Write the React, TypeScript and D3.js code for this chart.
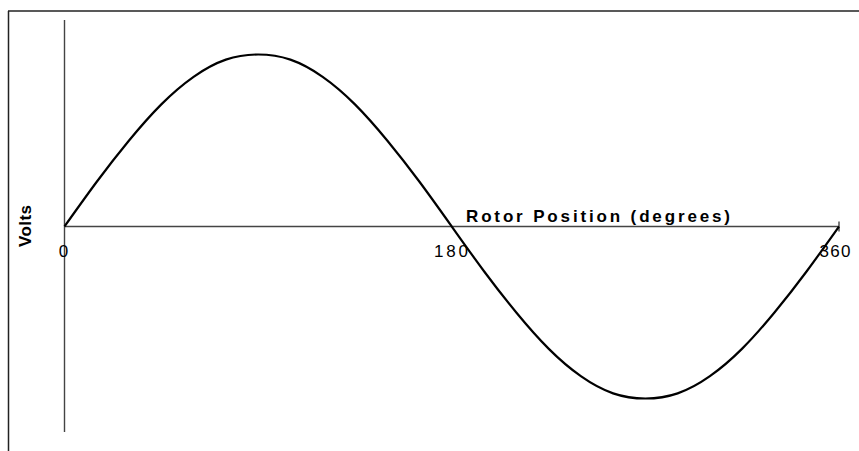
import React from "react";
import * as d3 from "d3";

const angles = [0, 15, 30, 45, 60, 75, 90, 105, 120, 135, 150, 165, 180, 195, 210, 225, 240, 255, 270, 285, 300, 315, 330, 345, 360];
const volts = [0, 0.26, 0.5, 0.71, 0.87, 0.97, 1, 0.97, 0.87, 0.71, 0.5, 0.26, 0, -0.26, -0.5, -0.71, -0.87, -0.97, -1, -0.97, -0.87, -0.71, -0.5, -0.26, 0];
const xTicks = [0, 180, 360];
const xTitle = "Rotor Position (degrees)";
const yTitle = "Volts";

const W = 859;
const H = 451;

export default function App() {
  const x = d3.scaleLinear().domain([0, 360]).range([64.5, 839]);
  const y = d3.scaleLinear().domain([-1, 1]).range([398.5, 54.5]);
  const pts: [number, number][] = angles.map((a, i) => [a, volts[i]]);
  const line = d3
    .line<[number, number]>()
    .x((d) => x(d[0]))
    .y((d) => y(d[1]))
    .curve(d3.curveNatural);
  const font = "'Liberation Sans', Arial, Helvetica, sans-serif";
  const tickLen: Record<number, number> = { 0: 8, 180: 34, 360: 31 };
  const tickX: Record<number, number> = { 0: 63.5, 180: 451, 360: 835 };
  return (
    <svg
      width={W}
      height={H}
      style={{ position: "absolute", left: 0, top: 0, background: "#fff" }}
    >
      {/* frame */}
      <line x1={8} y1={11} x2={W} y2={11} stroke="#222" strokeWidth={1.5} />
      <line x1={8.5} y1={11} x2={8.5} y2={H} stroke="#222" strokeWidth={1.5} />
      {/* axes */}
      <line x1={x(0)} y1={20} x2={x(0)} y2={432} stroke="#444" strokeWidth={1.4} />
      <line x1={x(0)} y1={y(0)} x2={x(360)} y2={y(0)} stroke="#444" strokeWidth={1.4} />
      <line x1={x(360)} y1={y(0) - 5} x2={x(360)} y2={y(0) + 5} stroke="#444" strokeWidth={1.4} />
      {/* curve */}
      <path d={line(pts) || ""} fill="none" stroke="#000" strokeWidth={2.2} />
      {/* tick labels */}
      {xTicks.map((t) => (
        <text
          key={t}
          x={tickX[t]}
          y={257}
          textAnchor="middle"
          fontFamily={font}
          fontSize={17}
          textLength={tickLen[t]}
          lengthAdjust="spacing"
          fill="#000"
        >
          {t}
        </text>
      ))}
      {/* x title */}
      <text
        x={466}
        y={222}
        fontFamily={font}
        fontWeight="bold"
        fontSize={17}
        textLength={264}
        lengthAdjust="spacing"
        fill="#000"
      >
        {xTitle}
      </text>
      {/* y title */}
      <text
        transform={`translate(31,247) rotate(-90)`}
        fontFamily={font}
        fontWeight="bold"
        fontSize={17}
        textLength={42}
        lengthAdjust="spacing"
        fill="#000"
      >
        {yTitle}
      </text>
    </svg>
  );
}
